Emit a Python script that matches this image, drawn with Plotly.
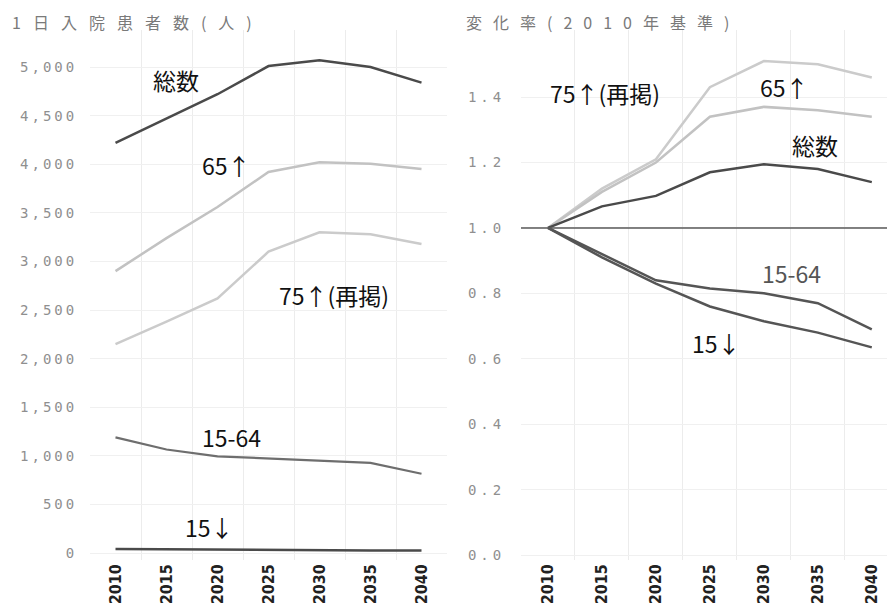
import plotly.graph_objects as go

years = ["2010", "2015", "2020", "2025", "2030", "2035", "2040"]

# Left: daily inpatients (persons)
total = [4220, 4470, 4720, 5010, 5070, 5000, 4840]
age65 = [2900, 3240, 3560, 3920, 4020, 4005, 3950]
age75 = [2150, 2380, 2620, 3100, 3300, 3280, 3180]
age15_64 = [1190, 1065, 995, 972, 950, 928, 815]
age15 = [40, 36, 33, 30, 28, 27, 25]

# Right: ratio (2010 = 1.0)
r_total = [1.0, 1.066, 1.098, 1.17, 1.195, 1.18, 1.14]
r_65 = [1.0, 1.11, 1.20, 1.34, 1.37, 1.36, 1.34]
r_75 = [1.0, 1.12, 1.21, 1.43, 1.51, 1.50, 1.46]
r_15_64 = [1.0, 0.92, 0.84, 0.815, 0.80, 0.77, 0.69]
r_15 = [1.0, 0.91, 0.83, 0.76, 0.715, 0.68, 0.635]
BASE = 1.0

left_ticks = [0, 500, 1000, 1500, 2000, 2500, 3000, 3500, 4000, 4500, 5000]
left_ticktext = ["0", "500", "1,000", "1,500", "2,000", "2,500", "3,000", "3,500", "4,000", "4,500", "5,000"]
right_ticks = [0.0, 0.2, 0.4, 0.6, 0.8, 1.0, 1.2, 1.4]
right_ticktext = ["0.0", "0.2", "0.4", "0.6", "0.8", "1.0", "1.2", "1.4"]

W, H = 887, 595  # page body has an 8px margin
DARK = "#4a4a4a"
LIGHT = "#c2c2c2"
LIGHT2 = "#cbcbcb"
MID = "#6e6e6e"

fig = go.Figure()

def add(x, y, color, width, xa, ya):
    fig.add_trace(go.Scatter(x=x, y=y, mode="lines", line=dict(color=color, width=width),
                             xaxis=xa, yaxis=ya, showlegend=False, hoverinfo="skip"))

add(years, age75, LIGHT2, 2.5, "x", "y")
add(years, age65, LIGHT, 2.5, "x", "y")
add(years, total, DARK, 2.5, "x", "y")
add(years, age15_64, MID, 2.2, "x", "y")
add(years, age15, DARK, 2.5, "x", "y")

add(years, r_75, LIGHT2, 2.5, "x2", "y2")
add(years, r_65, LIGHT, 2.5, "x2", "y2")
add(years, r_total, DARK, 2.5, "x2", "y2")
add(years, r_15_64, "#555555", 2.5, "x2", "y2")
add(years, r_15, "#555555", 2.5, "x2", "y2")

fig.add_shape(type="line", xref="x2 domain", yref="y2", x0=0, x1=1, y0=BASE, y1=BASE,
              line=dict(color="#5a5a5a", width=1.6), layer="above")

def spaced(labels, px):
    return ['<span style="letter-spacing:%dpx">%s</span>' % (px, t) for t in labels]

tickfont_y = dict(family="DejaVu Sans Mono", size=14, color="#8f8f8f")
tickfont_x = dict(family="Liberation Sans Narrow, DejaVu Sans Condensed", size=16, color="#222222", weight="bold")

xcommon = dict(type="category", tickson="boundaries", showgrid=True, gridcolor="#ececec", gridwidth=1,
               tickangle=-90, tickfont=tickfont_x, ticks="", showline=False, zeroline=False,
               range=[-0.5, 6.5], automargin=False)

top, bottom = 22, 552
fig.update_layout(
    width=W, height=H,
    margin=dict(l=0, r=0, t=top, b=H - bottom),
    plot_bgcolor="white", paper_bgcolor="white",
    xaxis=dict(domain=[82/W, 439/W], anchor="y", **xcommon),
    xaxis2=dict(domain=[513/W, 1.0], anchor="y2", **{**xcommon, "range": [-0.5, 6.43]}),
    yaxis=dict(domain=[0, 1], anchor="x", range=[-72, 5381], tickvals=left_ticks, ticktext=spaced(left_ticktext, 3),
               tickfont=tickfont_y, showgrid=True, gridcolor="#f0f0f0", zeroline=False,
               ticks="outside", ticklen=9, tickcolor="rgba(0,0,0,0)", automargin=False),
    yaxis2=dict(domain=[0, 1], anchor="x2", range=[-0.015, 1.605], tickvals=right_ticks, ticktext=spaced(right_ticktext, 4),
                tickfont=tickfont_y, showgrid=True, gridcolor="#f0f0f0", zeroline=False,
                ticks="outside", ticklen=12, tickcolor="rgba(0,0,0,0)", automargin=False),
)

ph = bottom - top
title_font = dict(family="Noto Sans CJK JP", size=16, color="#7a7a7a")
fig.add_annotation(text='<span style="letter-spacing:12px">1日入院患者数(人)</span>', xref="paper", yref="paper",
                   x=2/W, y=1 + top/ph, xanchor="left", yanchor="top", showarrow=False, font=title_font)
fig.add_annotation(text='<span style="letter-spacing:11px">変化率(2010年基準)</span>', xref="paper", yref="paper",
                   x=456/W, y=1 + top/ph, xanchor="left", yanchor="top", showarrow=False, font=title_font)

lab_font = dict(family="Noto Sans CJK JP", size=23, color="#111111")
left_labels = [("総数", 1.18, 4866), ("65↑", 2.17, 3992), ("75↑(再掲)", 4.28, 2654), ("15-64", 2.27, 1193), ("15↓", 1.85, 267)]
for t, xi, yv in left_labels:
    fig.add_annotation(text=t, x=xi, y=yv, xref="x", yref="y", showarrow=False, font=lab_font)

right_labels = [("75↑(再掲)", 1.06, 1.412, "#111111"), ("65↑", 4.39, 1.43, "#111111"), ("総数", 4.94, 1.253, "#111111"),
                ("15-64", 4.52, 0.862, "#555555"), ("15↓", 3.13, 0.648, "#111111")]
for t, xi, yv, c in right_labels:
    fig.add_annotation(text=t, x=xi, y=yv, xref="x2", yref="y2", showarrow=False, font=dict(lab_font, color=c))

fig.write_html("out.html")
